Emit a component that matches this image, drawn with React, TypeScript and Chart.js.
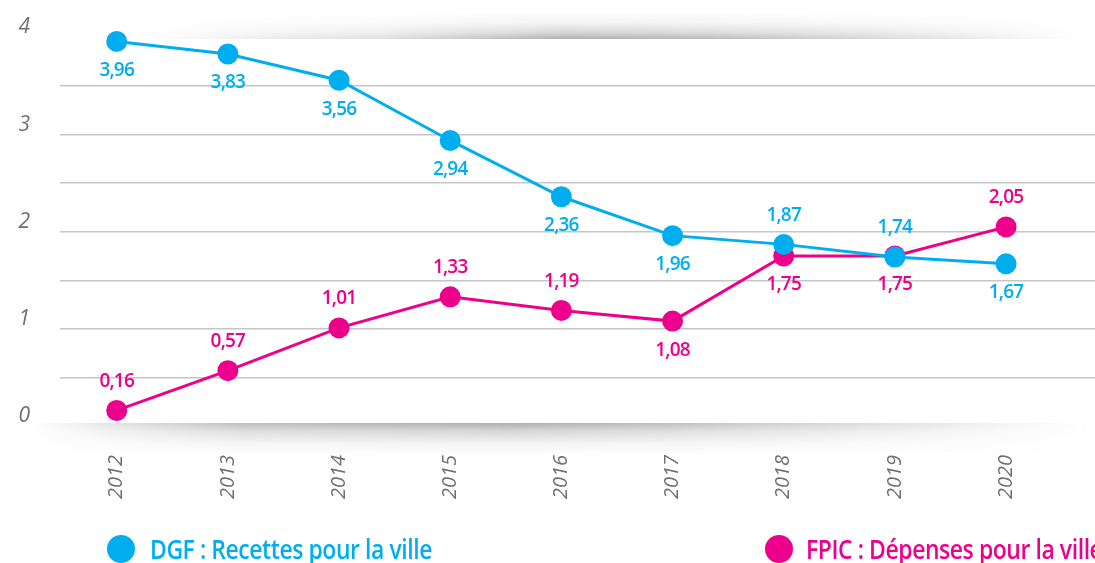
import React, { useEffect, useRef } from "react";
import { Chart, registerables } from "chart.js";

Chart.register(...registerables);

const years = [2012, 2013, 2014, 2015, 2016, 2017, 2018, 2019, 2020];
const dgfValues = [3.96, 3.83, 3.56, 2.94, 2.36, 1.96, 1.87, 1.74, 1.67];
const fpicValues = [0.16, 0.57, 1.01, 1.33, 1.19, 1.08, 1.75, 1.75, 2.05];
const dgfLabelSide = ["below", "below", "below", "below", "below", "below", "above", "above", "below"];
const fpicLabelSide = ["above", "above", "above", "above", "above", "below", "below", "below", "above"];
const yTicks = [0, 1, 2, 3, 4];
const dgfLegend = "DGF : Recettes pour la ville";
const fpicLegend = "FPIC : Dépenses pour la ville";

const BLUE = "#00aeef";
const PINK = "#ec008c";
const GRAY = "#707073";

function drawShadow(
  ctx: CanvasRenderingContext2D,
  x0: number, y0: number, w: number, h: number,
  darkAtTop: boolean,
  hStops: [number, number][],
  maxAlpha: number
) {
  const off = document.createElement("canvas");
  off.width = w;
  off.height = h;
  const o = off.getContext("2d")!;
  const vg = o.createLinearGradient(0, 0, 0, h);
  const stops: [number, number][] = [[0, 1], [0.25, 0.5], [0.6, 0.15], [1, 0]];
  stops.forEach(([p, a]) => {
    vg.addColorStop(darkAtTop ? p : 1 - p, `rgba(110,110,115,${maxAlpha * a})`);
  });
  o.fillStyle = vg;
  o.fillRect(0, 0, w, h);
  o.globalCompositeOperation = "destination-in";
  const hg = o.createLinearGradient(0, 0, w, 0);
  hStops.forEach(([p, a]) => hg.addColorStop(p, `rgba(0,0,0,${a})`));
  o.fillStyle = hg;
  o.fillRect(0, 0, w, h);
  ctx.drawImage(off, x0, y0);
}

const shadowPlugin = {
  id: "shadows",
  beforeDatasetsDraw(chart: any) {
    const { ctx, chartArea } = chart;
    ctx.save();
    drawShadow(ctx, 150, 12, 930, Math.round(chartArea.top) + 1 - 12, false,
      [[0, 0], [0.1, 0.2], [0.25, 0.4], [0.45, 1], [0.6, 0.85], [0.8, 0.45], [0.95, 0.1], [1, 0]], 0.55);
    drawShadow(ctx, 30, Math.round(chartArea.bottom) - 3, 1060, 34, true,
      [[0, 0], [0.08, 0.35], [0.2, 0.8], [0.45, 1], [0.6, 0.8], [0.8, 0.4], [0.95, 0.08], [1, 0]], 0.55);
    ctx.restore();
  },
};

const labelPlugin = {
  id: "pointLabels",
  afterDatasetsDraw(chart: any) {
    const { ctx } = chart;
    const sides = [dgfLabelSide, fpicLabelSide];
    ctx.save();
    ctx.font = "600 19px 'Open Sans'";
    ctx.textAlign = "center";
    ctx.textBaseline = "middle";
    (ctx as any).letterSpacing = "-0.8px";
    chart.data.datasets.forEach((ds: any, di: number) => {
      const meta = chart.getDatasetMeta(di);
      ctx.fillStyle = ds.borderColor;
      meta.data.forEach((pt: any, i: number) => {
        const v = ds.data[i].y;
        const txt = v.toFixed(2).replace(".", ",");
        const dy = sides[di][i] === "above" ? -29 : 29;
        ctx.fillText(txt, pt.x, pt.y + dy);
      });
    });
    ctx.restore();
  },
};

const legendPlugin = {
  id: "customLegend",
  afterDraw(chart: any) {
    const { ctx } = chart;
    ctx.save();
    const items = [
      { cx: 121, text: dgfLegend, color: BLUE, tx: 150 },
      { cx: 779, text: fpicLegend, color: PINK, tx: 806 },
    ];
    ctx.font = "600 27px 'Open Sans'";
    (ctx as any).letterSpacing = "-0.5px";
    const scaleX = 282 / ctx.measureText(dgfLegend).width;
    items.forEach((it) => {
      ctx.fillStyle = it.color;
      ctx.beginPath();
      ctx.arc(it.cx, 549, 14, 0, Math.PI * 2);
      ctx.fill();
      ctx.save();
      ctx.translate(it.tx, 559);
      ctx.scale(scaleX, 1);
      ctx.textBaseline = "alphabetic";
      ctx.textAlign = "left";
      ctx.fillText(it.text, 0, 0);
      ctx.restore();
    });
    ctx.restore();
  },
};

export default function App() {
  const ref = useRef<HTMLCanvasElement | null>(null);

  useEffect(() => {
    document.body.style.margin = "0";
    const canvas = ref.current!;
    const chart = new Chart(canvas, {
      type: "line",
      data: {
        datasets: [
          {
            label: "DGF",
            data: years.map((y, i) => ({ x: y, y: dgfValues[i] })),
            borderColor: BLUE,
            backgroundColor: BLUE,
            pointBackgroundColor: BLUE,
            pointBorderWidth: 0,
            pointRadius: 10.5,
            borderWidth: 3,
            tension: 0,
            clip: false as any,
          },
          {
            label: "FPIC",
            data: years.map((y, i) => ({ x: y, y: fpicValues[i] })),
            borderColor: PINK,
            backgroundColor: PINK,
            pointBackgroundColor: PINK,
            pointBorderWidth: 0,
            pointRadius: 10.5,
            borderWidth: 3,
            tension: 0,
            clip: false as any,
          },
        ],
      },
      options: {
        animation: false,
        responsive: false,
        layout: { autoPadding: false, padding: { top: 37.5, right: 0, left: 0, bottom: 0 } },
        plugins: { legend: { display: false }, tooltip: { enabled: false } },
        scales: {
          x: {
            type: "linear",
            min: 2011.49,
            max: 2020.8,
            grid: { display: false, drawTicks: false },
            border: { display: false },
            afterBuildTicks: (scale: any) => {
              scale.ticks = years.map((v) => ({ value: v }));
            },
            afterFit: (scale: any) => {
              scale.height = 137;
              scale.paddingLeft = 0;
              scale.paddingRight = 0;
            },
            ticks: {
              minRotation: 90,
              maxRotation: 90,
              padding: 29,
              color: GRAY,
              font: { family: "'Open Sans'", size: 20, style: "italic", weight: "400" as any },
              callback: (v: any) => String(v),
            },
          },
          y: {
            min: 0,
            max: 4,
            afterBuildTicks: (scale: any) => {
              const t: any[] = [];
              for (let v = 0; v <= 4; v += 0.5) t.push({ value: v });
              scale.ticks = t;
            },
            afterFit: (scale: any) => {
              scale.width = 60;
              scale.paddingTop = 0;
              scale.paddingBottom = 0;
            },
            border: { display: false },
            grid: {
              drawTicks: false,
              lineWidth: 1.5,
              color: (c: any) =>
                c.tick && (c.tick.value === 0 || c.tick.value === 4) ? "rgba(0,0,0,0)" : "#c6c6c8",
            },
            ticks: {
              padding: 30,
              labelOffset: -10,
              color: GRAY,
              font: { family: "'Open Sans'", size: 21, style: "italic", weight: "400" as any },
              callback: (v: any) => (yTicks.includes(v) ? String(v) : ""),
            },
          },
        },
      },
      plugins: [shadowPlugin, labelPlugin, legendPlugin],
    });
    return () => chart.destroy();
  }, []);

  return (
    <div style={{ width: 1095, height: 563, background: "#fff" }}>
      <canvas ref={ref} width={1095} height={563} />
    </div>
  );
}
